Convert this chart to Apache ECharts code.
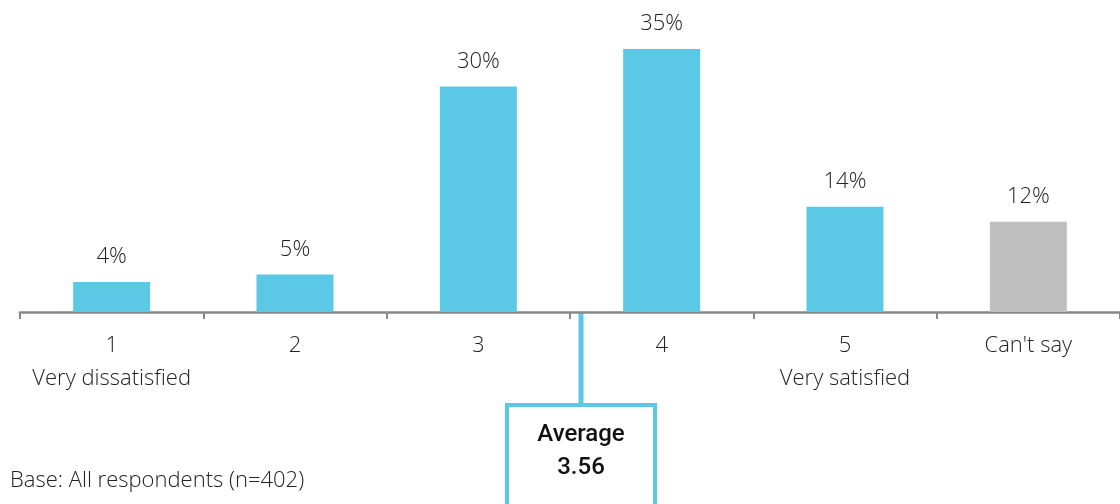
<!DOCTYPE html>
<html>
<head>
<meta charset="utf-8">
<script src="https://cdn.jsdelivr.net/npm/echarts@6/dist/echarts.min.js"></script>
<style>
  html, body { margin: 0; padding: 0; background: #fff; }
  #chart { width: 1120px; height: 504px; }
</style>
</head>
<body>
<div id="chart"></div>
<script>
// Satisfaction scale categories and their sub-captions
const categories = ['1', '2', '3', '4', '5', "Can't say"];
const captions = ['Very dissatisfied', '', '', '', 'Very satisfied', ''];
// Share of respondents (%)
const shares = [4, 5, 30, 35, 14, 12];
const averageScore = 3.56;
const baseNote = 'Base: All respondents (n=402)';

const FONT = '"Open Sans"';
const CYAN = '#5BC9E6';
const GREY = '#BFBFBF';

const chart = echarts.init(document.getElementById('chart'), null, { renderer: 'canvas' });

const barData = shares.map((v, i) => ({
  value: v,
  itemStyle: { color: categories[i] === "Can't say" ? GREY : CYAN }
}));

chart.setOption({
  animation: false,
  grid: { left: 20, right: -4, top: 49, bottom: 192, containLabel: false },
  xAxis: {
    type: 'category',
    data: categories,
    axisLine: { lineStyle: { color: '#888', width: 2.5 } },
    axisTick: { show: true, interval: 0, length: 7, lineStyle: { color: '#888', width: 2 } },
    axisLabel: {
      interval: 0,
      margin: 17,
      fontFamily: FONT,
      fontWeight: 300,
      fontSize: 22,
      lineHeight: 33,
      color: '#222',
      verticalAlign: 'top',
      formatter: (v, i) => captions[i] ? v + '\n' + captions[i] : v
    }
  },
  yAxis: {
    type: 'value',
    min: 0,
    max: 35,
    show: false,
    splitLine: { show: false }
  },
  series: [{
    type: 'bar',
    data: barData,
    barWidth: 77,
    label: {
      show: true,
      position: 'top',
      distance: 14,
      formatter: p => p.value + '%',
      fontFamily: FONT,
      fontWeight: 300,
      fontSize: 22,
      color: '#222'
    }
  }]
});

// Average marker: line dropping from the axis to a boxed label
const x3 = chart.convertToPixel({ xAxisIndex: 0 }, 2);
const x4 = chart.convertToPixel({ xAxisIndex: 0 }, 3);
const ax = x3 + (averageScore - 3) * (x4 - x3);
const axisY = chart.convertToPixel({ yAxisIndex: 0 }, 0);
const boxW = 148, boxTop = 405;

chart.setOption({
  graphic: [
    {
      type: 'line',
      shape: { x1: ax, y1: axisY + 1, x2: ax, y2: boxTop },
      style: { stroke: CYAN, lineWidth: 5 }
    },
    {
      type: 'rect',
      shape: { x: ax - boxW / 2, y: boxTop, width: boxW, height: 120 },
      style: { fill: '#fff', stroke: CYAN, lineWidth: 4 }
    },
    {
      type: 'text',
      x: ax, y: 435,
      style: {
        text: 'Average', fontFamily: 'Roboto', fontWeight: 500, fontSize: 24,
        fill: '#111', align: 'center', verticalAlign: 'middle'
      }
    },
    {
      type: 'text',
      x: ax, y: 468,
      style: {
        text: averageScore.toFixed(2), fontFamily: 'Roboto', fontWeight: 500, fontSize: 24,
        fill: '#111', align: 'center', verticalAlign: 'middle'
      }
    },
    {
      type: 'text',
      left: 10, top: 470,
      style: {
        text: baseNote, fontFamily: FONT, fontWeight: 300, fontSize: 22,
        fill: '#222'
      }
    }
  ]
});
</script>
</body>
</html>
